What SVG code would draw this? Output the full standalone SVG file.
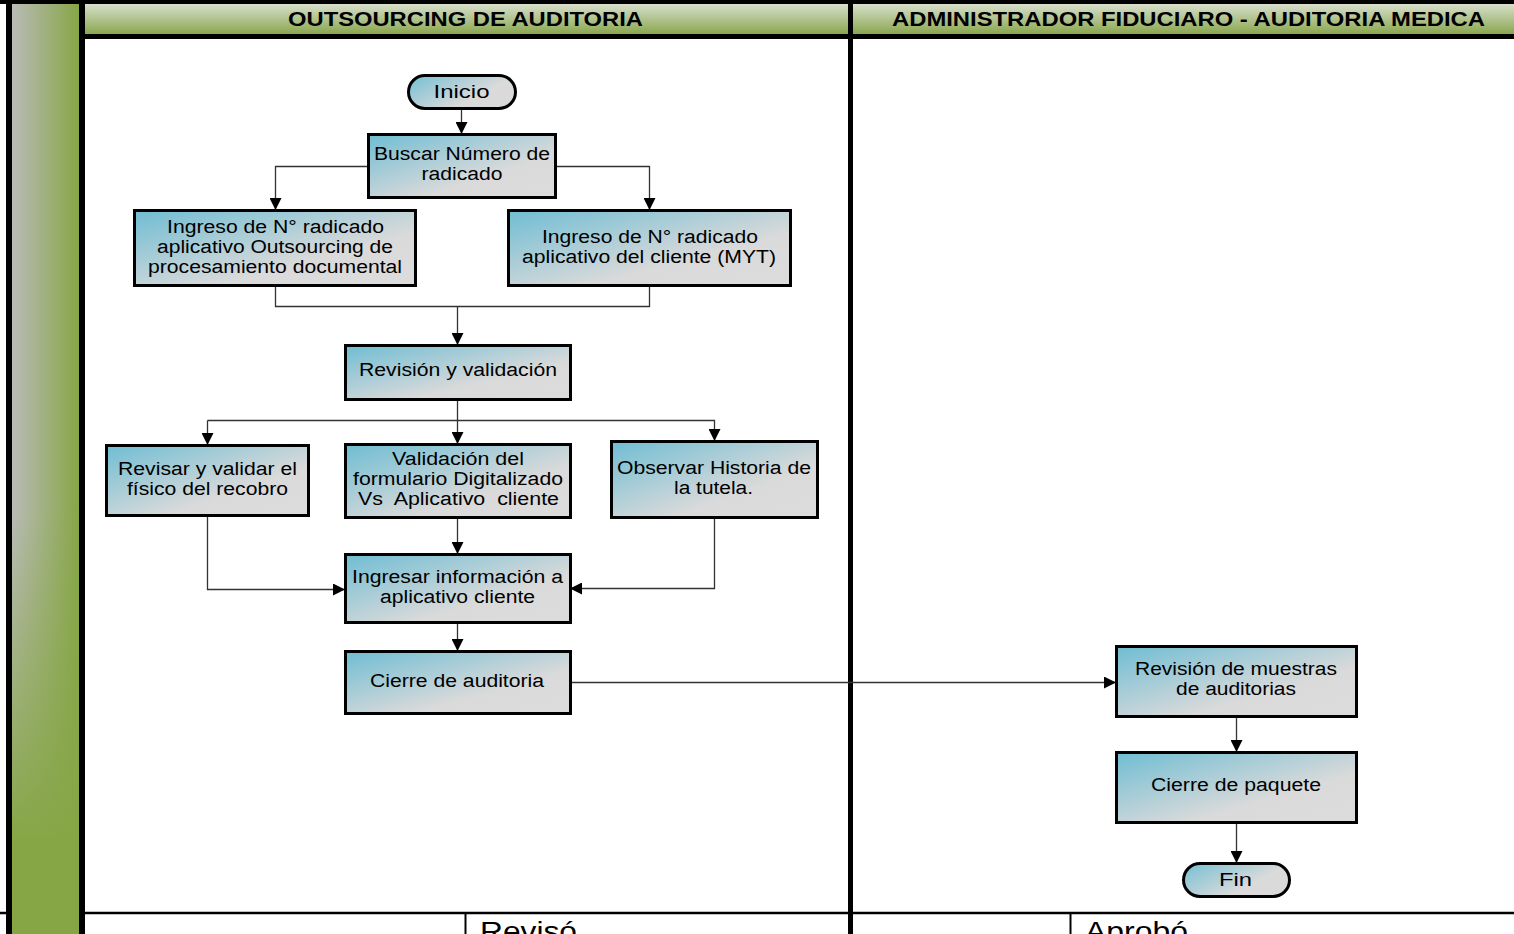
<svg xmlns="http://www.w3.org/2000/svg" width="1514" height="934" viewBox="0 0 1514 934">
<defs>
<linearGradient id="nodeG" x1="0" y1="0" x2="1" y2="1">
<stop offset="0" stop-color="#6fbdd3"/>
<stop offset="0.65" stop-color="#dadada"/>
<stop offset="1" stop-color="#dcdcdc"/>
</linearGradient>
<linearGradient id="pillG" x1="0" y1="0" x2="1" y2="0.6">
<stop offset="0" stop-color="#74bfd4"/>
<stop offset="0.75" stop-color="#dadada"/>
</linearGradient>
<linearGradient id="hdrG" x1="0" y1="0" x2="0" y2="1">
<stop offset="0" stop-color="#d8dfcc"/>
<stop offset="1" stop-color="#87a54a"/>
</linearGradient>
<linearGradient id="barG" x1="0" y1="0" x2="1" y2="0">
<stop offset="0" stop-color="#b9bbb6"/>
<stop offset="1" stop-color="#86a646"/>
</linearGradient>
<linearGradient id="barFade" x1="0" y1="0" x2="0" y2="1">
<stop offset="0.55" stop-color="#86a646" stop-opacity="0"/>
<stop offset="0.9" stop-color="#86a646" stop-opacity="1"/>
</linearGradient>
<marker id="arr" markerWidth="12" markerHeight="12" viewBox="0 0 12 12" refX="12" refY="6" orient="auto" markerUnits="userSpaceOnUse">
<path d="M0,0 L12,6 L0,12 Z" fill="#000"/>
</marker>
</defs>
<style>
.box{fill:url(#nodeG);stroke:#000;stroke-width:3}
.pill{fill:url(#pillG);stroke:#000;stroke-width:3}
.t{font-family:"Liberation Sans",Arial,sans-serif;font-size:18px;fill:#000;text-anchor:middle}
.tp{font-family:"Liberation Sans",Arial,sans-serif;font-size:19px;fill:#000;text-anchor:middle}
.h{font-family:"Liberation Sans",Arial,sans-serif;font-size:20px;font-weight:bold;fill:#000;text-anchor:middle}
.f{font-family:"Liberation Sans",Arial,sans-serif;font-size:27px;fill:#000}
.c{fill:none;stroke:#333;stroke-width:1.3}
</style>
<rect x="0" y="0" width="1514" height="934" fill="#fff"/>
<g id="frame">
<rect x="0" y="0" width="1514" height="4" fill="#000"/>
<rect x="85" y="4" width="763" height="31" fill="url(#hdrG)"/>
<rect x="853" y="4" width="661" height="31" fill="url(#hdrG)"/>
<rect x="85" y="34" width="1429" height="5" fill="#000"/>
<line x1="0" y1="913" x2="1514" y2="913" stroke="#000" stroke-width="2.5"/>
<line x1="465.5" y1="913" x2="465.5" y2="934" stroke="#000" stroke-width="2"/>
<line x1="1070.5" y1="913" x2="1070.5" y2="934" stroke="#000" stroke-width="2"/>
<rect x="6" y="0" width="6" height="934" fill="#000"/>
<rect x="12" y="4" width="67" height="930" fill="url(#barG)"/>
<rect x="12" y="4" width="67" height="930" fill="url(#barFade)"/>
<rect x="79" y="0" width="6" height="934" fill="#000"/>
<rect x="848" y="0" width="5" height="934" fill="#000"/>
<text class="h" x="465.5" y="26" textLength="355" lengthAdjust="spacingAndGlyphs">OUTSOURCING DE AUDITORIA</text>
<text class="h" x="1188.5" y="26" textLength="593" lengthAdjust="spacingAndGlyphs">ADMINISTRADOR FIDUCIARO - AUDITORIA MEDICA</text>
<text class="f" x="480" y="941" textLength="97" lengthAdjust="spacingAndGlyphs">Revisó</text>
<text class="f" x="1085" y="941" textLength="103" lengthAdjust="spacingAndGlyphs">Aprobó</text>
</g>
<g id="connectors">
<path class="c" d="M461.5,108 V134" marker-end="url(#arr)"/>
<path class="c" d="M368,166.5 H275.5 V210" marker-end="url(#arr)"/>
<path class="c" d="M555,166.5 H649.5 V210" marker-end="url(#arr)"/>
<path class="c" d="M275.5,285 V306.5 H649.5 V285"/>
<path class="c" d="M457.5,306.5 V345" marker-end="url(#arr)"/>
<path class="c" d="M457.5,399 V420.5"/>
<path class="c" d="M207.5,420.5 H714.5 V441" marker-end="url(#arr)"/>
<path class="c" d="M207.5,420.5 V445" marker-end="url(#arr)"/>
<path class="c" d="M457.5,420.5 V444" marker-end="url(#arr)"/>
<path class="c" d="M457.5,517 V554" marker-end="url(#arr)"/>
<path class="c" d="M207.5,515 V589.5 H345" marker-end="url(#arr)"/>
<path class="c" d="M714.5,517 V588.5 H570" marker-end="url(#arr)"/>
<path class="c" d="M457.5,622 V651" marker-end="url(#arr)"/>
<path class="c" d="M570,682.5 H1116" marker-end="url(#arr)"/>
<path class="c" d="M1236.5,716 V752" marker-end="url(#arr)"/>
<path class="c" d="M1236.5,822 V863" marker-end="url(#arr)"/>
</g>
<g id="inicio">
<rect class="pill" x="408.5" y="75.5" width="107" height="33" rx="16.5"/>
<text class="tp" x="461.5" y="98" textLength="56" lengthAdjust="spacingAndGlyphs">Inicio</text>
</g>
<g id="buscar">
<rect class="box" x="368.5" y="134.5" width="187" height="63"/>
<text class="t" x="462" y="160" textLength="176" lengthAdjust="spacingAndGlyphs">Buscar Número de</text>
<text class="t" x="462" y="180" textLength="81" lengthAdjust="spacingAndGlyphs">radicado</text>
</g>
<g id="ingresoOut">
<rect class="box" x="134.5" y="210.5" width="281" height="75"/>
<text class="t" x="275.5" y="233" textLength="217" lengthAdjust="spacingAndGlyphs">Ingreso de N° radicado</text>
<text class="t" x="275" y="253" textLength="236" lengthAdjust="spacingAndGlyphs">aplicativo Outsourcing de</text>
<text class="t" x="275" y="273" textLength="254" lengthAdjust="spacingAndGlyphs">procesamiento documental</text>
</g>
<g id="ingresoCli">
<rect class="box" x="508.5" y="210.5" width="282" height="75"/>
<text class="t" x="650" y="243" textLength="216" lengthAdjust="spacingAndGlyphs">Ingreso de N° radicado</text>
<text class="t" x="649" y="263" textLength="254" lengthAdjust="spacingAndGlyphs">aplicativo del cliente (MYT)</text>
</g>
<g id="revision">
<rect class="box" x="345.5" y="345.5" width="225" height="54"/>
<text class="t" x="458" y="376" textLength="198" lengthAdjust="spacingAndGlyphs">Revisión y validación</text>
</g>
<g id="revisar">
<rect class="box" x="106.5" y="445.5" width="202" height="70"/>
<text class="t" x="207.5" y="475" textLength="179" lengthAdjust="spacingAndGlyphs">Revisar y validar el</text>
<text class="t" x="207.5" y="495" textLength="161" lengthAdjust="spacingAndGlyphs">físico del recobro</text>
</g>
<g id="validacion">
<rect class="box" x="345.5" y="444.5" width="225" height="73"/>
<text class="t" x="458" y="465" textLength="132" lengthAdjust="spacingAndGlyphs">Validación del</text>
<text class="t" x="458" y="485" textLength="210" lengthAdjust="spacingAndGlyphs">formulario Digitalizado</text>
<text class="t" x="458.5" y="505" textLength="201" lengthAdjust="spacingAndGlyphs" xml:space="preserve">Vs  Aplicativo  cliente</text>
</g>
<g id="observar">
<rect class="box" x="611.5" y="441.5" width="206" height="76"/>
<text class="t" x="714" y="474" textLength="194" lengthAdjust="spacingAndGlyphs">Observar Historia de</text>
<text class="t" x="713.5" y="494" textLength="79" lengthAdjust="spacingAndGlyphs">la tutela.</text>
</g>
<g id="ingresar">
<rect class="box" x="345.5" y="554.5" width="225" height="68"/>
<text class="t" x="457.5" y="583" textLength="211" lengthAdjust="spacingAndGlyphs">Ingresar información a</text>
<text class="t" x="457.5" y="603" textLength="155" lengthAdjust="spacingAndGlyphs">aplicativo cliente</text>
</g>
<g id="cierreAud">
<rect class="box" x="345.5" y="651.5" width="225" height="62"/>
<text class="t" x="457" y="687" textLength="174" lengthAdjust="spacingAndGlyphs">Cierre de auditoria</text>
</g>
<g id="muestras">
<rect class="box" x="1116.5" y="646.5" width="240" height="70"/>
<text class="t" x="1236" y="675" textLength="202" lengthAdjust="spacingAndGlyphs">Revisión de muestras</text>
<text class="t" x="1236" y="695" textLength="120" lengthAdjust="spacingAndGlyphs">de auditorias</text>
</g>
<g id="cierrePaq">
<rect class="box" x="1116.5" y="752.5" width="240" height="70"/>
<text class="t" x="1236" y="791" textLength="170" lengthAdjust="spacingAndGlyphs">Cierre de paquete</text>
</g>
<g id="fin">
<rect class="pill" x="1183.5" y="863.5" width="106" height="33" rx="16.5"/>
<text class="tp" x="1235.5" y="886" textLength="33" lengthAdjust="spacingAndGlyphs">Fin</text>
</g>
</svg>
